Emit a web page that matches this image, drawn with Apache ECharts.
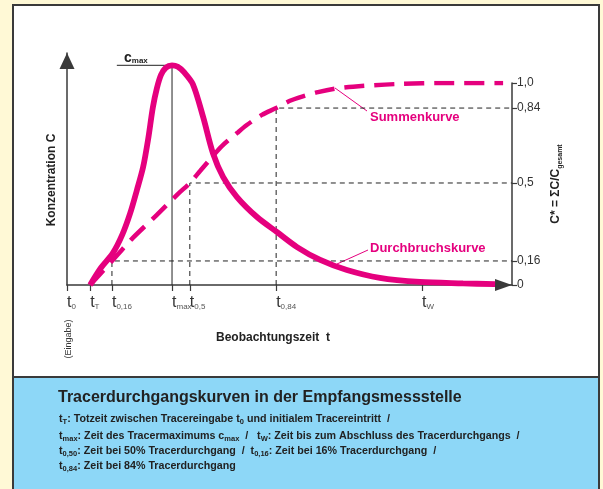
<!DOCTYPE html>
<html><head><meta charset="utf-8">
<script src="https://cdn.jsdelivr.net/npm/echarts@6/dist/echarts.min.js"></script>
<style>html,body{margin:0;padding:0;background:#FFF9D6;}#c{width:603px;height:489px;}</style>
</head><body><div id="c"></div>
<script>
// ---- schematic time axis (arbitrary units 0..100) ----
const timeTickValues = [0, 5.2, 10.1, 23.6, 27.6, 47.0, 79.8];
const timeTickSub = ['0', 'T', '0,16', 'max', '0,5', '0,84', 'W'];
// ---- right axis C* (schematic positions of the ticks) ----
const cStarTickPositions = [0, 0.119, 0.505, 0.876, 1];
const cStarTickLabels = ['0', '0,16', '0,5', '0,84', '1,0'];
// ---- Durchbruchskurve (concentration, arbitrary units) ----
const breakT = [5.2, 7.6, 10.3, 12.4, 14.2, 15.7, 17.1, 18.2, 19.3, 20.2, 21.1, 22.2, 23.6, 24.9, 26.3, 28.3, 30.6, 32.8, 35.1, 38.2, 42.7, 47.2, 51.7, 56.9, 62.9, 70.3, 79.3, 89, 96.2];
const breakC = [0, 0.084, 0.158, 0.248, 0.356, 0.47, 0.584, 0.718, 0.881, 0.975, 1.04, 1.077, 1.089, 1.082, 1.055, 0.995, 0.832, 0.653, 0.535, 0.436, 0.337, 0.262, 0.188, 0.124, 0.074, 0.035, 0.015, 0.008, 0.004];
// ---- Summenkurve (C*) ----
const sumT = [5.2, 10.1, 14.8, 20.2, 24.9, 27.6, 29.9, 32.8, 34.8, 38.2, 40.4, 43.8, 47.0, 50.1, 53.0, 56.4, 60.2, 64.3, 74.2, 85.4, 98];
const sumS = [0, 0.119, 0.233, 0.347, 0.45, 0.505, 0.564, 0.639, 0.688, 0.752, 0.792, 0.842, 0.876, 0.912, 0.934, 0.955, 0.972, 0.982, 0.995, 1.0, 1.0];
// ---- reference times / levels ----
const percentileTimes = [10.1, 27.6, 47.0];
const percentileLevels = [0.119, 0.505, 0.876];
const tMax = 23.6, cMax = 1.089, cMaxLineStart = 11.2;
const tEnd = 100;

const MAG = '#E5007E', AX = '#3a3a3a', FONT = 'Liberation Sans, Arial, sans-serif';
const zip = (a, b) => a.map((v, i) => [v, b[i]]);

const refSeries = percentileTimes.map((t, i) => ({
  type: 'line', xAxisIndex: 1, yAxisIndex: 1, symbol: 'none', silent: true, z: 1,
  lineStyle: { color: '#222', width: 1, type: [5, 4] },
  data: [[t, 0], [t, percentileLevels[i]], [tEnd, percentileLevels[i]]]
}));

const capRich = {
  a: { font: 'bold 10.7px ' + FONT, fill: '#222' },
  s: { font: 'bold 7.5px ' + FONT, fill: '#222', padding: [5, 0, 0, 0] }
};

const chart = echarts.init(document.getElementById('c'), null, { renderer: 'canvas' });
chart.setOption({
  backgroundColor: '#FFF9D6',
  animation: false,
  grid: [
    { left: 67, right: 91, top: 53, bottom: 204 },
    { left: 67, right: 91, top: 83, bottom: 204 }
  ],
  xAxis: [
    { type: 'value', gridIndex: 0, min: 0, max: tEnd, splitLine: { show: false },
      axisLine: { show: true, onZero: false, lineStyle: { color: AX, width: 1.5 }, symbol: ['none', 'triangle'], symbolSize: [12, 17], symbolOffset: [0, -8.5] },
      axisTick: { show: true, customValues: timeTickValues, length: 6, lineStyle: { color: AX, width: 1.2 } },
      axisLabel: { show: true, customValues: timeTickValues, align: 'left', margin: 9,
        formatter: function (v) {
          const i = timeTickValues.findIndex(t => Math.abs(t - v) < 1e-6);
          return i < 0 ? '' : '{m|t}{s|' + timeTickSub[i] + '}';
        },
        rich: {
          m: { fontFamily: FONT, fontSize: 16, color: '#333' },
          s: { fontFamily: FONT, fontSize: 8, color: '#555', padding: [9, 0, 0, 0] }
        }
      }
    },
    { type: 'value', gridIndex: 1, min: 0, max: tEnd, show: false }
  ],
  yAxis: [
    { type: 'value', gridIndex: 0, min: 0, max: 1.15, splitLine: { show: false },
      axisLine: { show: true, onZero: false, lineStyle: { color: AX, width: 1.5 }, symbol: ['none', 'triangle'], symbolSize: [15, 16], symbolOffset: [0, -8] },
      axisTick: { show: false }, axisLabel: { show: false } },
    { type: 'value', gridIndex: 1, min: 0, max: 1, position: 'right', splitLine: { show: false },
      axisLine: { show: true, onZero: false, lineStyle: { color: AX, width: 1.5 } },
      axisTick: { show: true, customValues: cStarTickPositions, length: 5, lineStyle: { color: AX, width: 1.2 } },
      axisLabel: { show: true, customValues: cStarTickPositions, margin: 5, fontFamily: FONT, fontSize: 12, color: '#333',
        formatter: function (v) {
          const i = cStarTickPositions.findIndex(t => Math.abs(t - v) < 1e-6);
          return i < 0 ? '' : cStarTickLabels[i];
        } } }
  ],
  series: [
    ...refSeries,
    { type: 'line', xAxisIndex: 0, yAxisIndex: 0, symbol: 'none', silent: true, z: 1,
      lineStyle: { color: '#222', width: 1 },
      data: [[cMaxLineStart, cMax], [tMax, cMax], [tMax, 0]] },
    { name: 'Summenkurve', type: 'line', xAxisIndex: 1, yAxisIndex: 1, symbol: 'none', smooth: 0.3, z: 3,
      lineStyle: { color: MAG, width: 4.5, type: [20, 10], cap: 'butt' },
      data: zip(sumT, sumS) },
    { name: 'Durchbruchskurve', type: 'line', xAxisIndex: 0, yAxisIndex: 0, symbol: 'none', smooth: 0.3, z: 4,
      lineStyle: { color: MAG, width: 5.8 },
      data: zip(breakT, breakC) }
  ],
  graphic: [
    { type: 'rect', z: -10, shape: { x: 13, y: 5, width: 586, height: 495 }, style: { fill: '#FFFFFF', stroke: '#3a3a3a', lineWidth: 2 } },
    { type: 'rect', z: -9, shape: { x: 13, y: 377, width: 586, height: 120 }, style: { fill: '#8DD7F7', stroke: '#3a3a3a', lineWidth: 2 } },
    { type: 'text', x: 52, y: 180, rotation: Math.PI / 2, style: { text: 'Konzentration C', font: 'bold 12px ' + FONT, fill: '#222', align: 'center', verticalAlign: 'middle' } },
    { type: 'text', x: 273, y: 338, style: { text: 'Beobachtungszeit  t', font: 'bold 12px ' + FONT, fill: '#222', align: 'center', verticalAlign: 'middle' } },
    { type: 'text', x: 69, y: 339, rotation: Math.PI / 2, style: { text: '(Eingabe)', font: '9px ' + FONT, fill: '#333', align: 'center', verticalAlign: 'middle' } },
    { type: 'text', x: 556, y: 184, rotation: Math.PI / 2, style: { text: '{a|C* = \u03A3C/C}{b|gesamt}', align: 'center', verticalAlign: 'middle',
      rich: { a: { font: 'bold 12px ' + FONT, fill: '#222' }, b: { font: 'bold 7px ' + FONT, fill: '#222', padding: [8, 0, 0, 0] } } } },
    { type: 'text', x: 124, y: 58, style: { text: '{a|c}{b|max}', align: 'left', verticalAlign: 'middle',
      rich: { a: { font: 'bold 14px ' + FONT, fill: '#222' }, b: { font: 'bold 8px ' + FONT, fill: '#222', padding: [6, 0, 0, 0] } } } },
    { type: 'line', shape: { x1: 335, y1: 88, x2: 367, y2: 111 }, style: { stroke: MAG, lineWidth: 1 } },
    { type: 'text', x: 370, y: 117, style: { text: 'Summenkurve', font: 'bold 13px ' + FONT, fill: MAG, align: 'left', verticalAlign: 'middle' } },
    { type: 'line', shape: { x1: 337, y1: 264, x2: 368, y2: 250 }, style: { stroke: MAG, lineWidth: 1 } },
    { type: 'text', x: 370, y: 248, style: { text: 'Durchbruchskurve', font: 'bold 13px ' + FONT, fill: MAG, align: 'left', verticalAlign: 'middle' } },
    { type: 'text', x: 58, y: 398, style: { text: 'Tracerdurchgangskurven in der Empfangsmessstelle', font: 'bold 16px ' + FONT, fill: '#222', align: 'left', verticalAlign: 'middle' } },
    { type: 'text', x: 59, y: 419, style: { text: '{a|t}{s|T}{a|: Totzeit zwischen Tracereingabe t}{s|0}{a| und initialem Tracereintritt  /}', align: 'left', verticalAlign: 'middle', rich: capRich } },
    { type: 'text', x: 59, y: 436, style: { text: '{a|t}{s|max}{a|: Zeit des Tracermaximums c}{s|max}{a|  /   t}{s|W}{a|: Zeit bis zum Abschluss des Tracerdurchgangs  /}', align: 'left', verticalAlign: 'middle', rich: capRich } },
    { type: 'text', x: 59, y: 451, style: { text: '{a|t}{s|0,50}{a|: Zeit bei 50% Tracerdurchgang  /  t}{s|0,16}{a|: Zeit bei 16% Tracerdurchgang  /}', align: 'left', verticalAlign: 'middle', rich: capRich } },
    { type: 'text', x: 59, y: 466, style: { text: '{a|t}{s|0,84}{a|: Zeit bei 84% Tracerdurchgang}', align: 'left', verticalAlign: 'middle', rich: capRich } }
  ]
});
</script></body></html>
